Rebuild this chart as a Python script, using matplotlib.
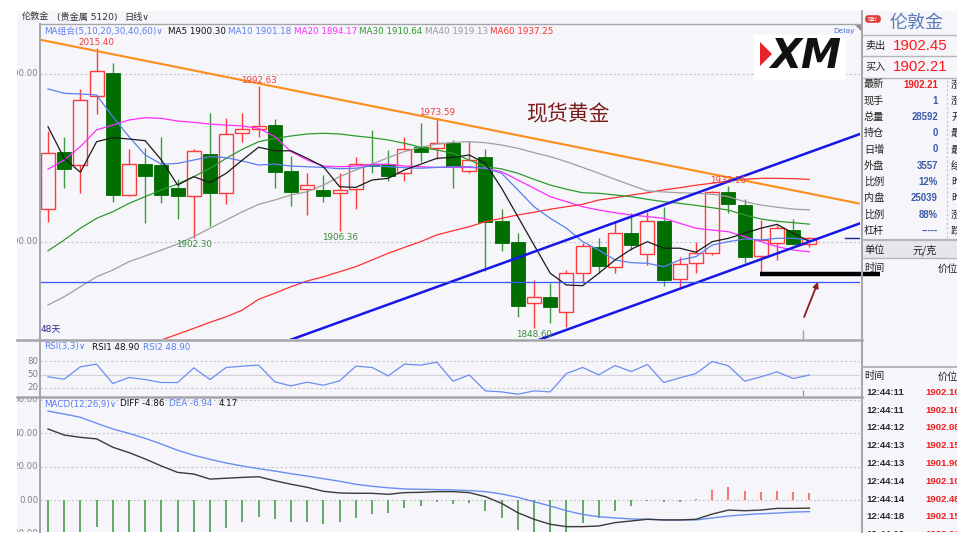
import numpy as np
import matplotlib
matplotlib.use("Agg")
import matplotlib.pyplot as plt
from matplotlib.patches import Rectangle, Polygon, FancyBboxPatch

plt.rcParams['font.family'] = ['DejaVu Sans', 'Noto Sans CJK SC']

# ---------------- data (daily candles, London gold) ----------------
opens = [1919.6, 1953.4, 1945.6, 1986.9, 2000.8, 1927.8, 1946.2, 1945.8, 1932.3, 1927.6,
         1952.4, 1929.3, 1965.1, 1967.1, 1969.6, 1942.3, 1931.4, 1931.0, 1929.0, 1931.5,
         1946.4, 1946.4, 1941.3, 1956.4, 1955.8, 1958.8, 1942.3, 1950.4, 1912.3, 1900.0,
         1863.5, 1867.4, 1858.2, 1881.4, 1897.2, 1884.9, 1905.5, 1892.9, 1912.3, 1878.0,
         1887.3, 1893.3, 1929.6, 1922.0, 1891.7, 1899.2, 1907.1, 1898.8]
highs = [1966.0, 1962.3, 1990.9, 2015.40, 2006.4, 1955.2, 1955.8, 1962.3, 1937.5, 1955.2,
         1976.6, 1973.6, 1976.6, 1992.63, 1973.2, 1951.2, 1940.9, 1939.9, 1940.9, 1950.8,
         1966.7, 1954.8, 1962.3, 1970.7, 1973.59, 1960.7, 1960.1, 1955.4, 1919.5, 1905.5,
         1877.4, 1875.4, 1883.3, 1899.2, 1902.2, 1911.7, 1917.1, 1918.0, 1921.0, 1891.3,
         1900.2, 1930.4, 1933.16, 1925.4, 1913.1, 1910.1, 1913.5, 1903.2]
lows = [1912.1, 1932.0, 1929.3, 1976.0, 1924.0, 1927.4, 1911.1, 1923.0, 1913.9, 1902.30,
        1909.7, 1922.6, 1959.5, 1962.3, 1932.3, 1921.4, 1916.1, 1924.0, 1906.36, 1919.6,
        1940.9, 1936.5, 1936.5, 1947.8, 1949.2, 1932.3, 1940.9, 1882.9, 1894.6, 1855.5,
        1848.60, 1851.6, 1849.5, 1875.8, 1881.4, 1881.4, 1895.2, 1886.3, 1874.0, 1872.4,
        1881.4, 1892.3, 1917.4, 1887.3, 1882.0, 1889.3, 1898.2, 1896.8]
closes = [1952.8, 1943.5, 1984.5, 2001.8, 1928.0, 1946.6, 1939.5, 1928.0, 1927.6, 1954.3,
          1929.0, 1964.3, 1967.4, 1969.0, 1941.5, 1929.9, 1933.8, 1927.6, 1931.0, 1946.4,
          1945.2, 1939.5, 1955.2, 1953.8, 1958.8, 1944.5, 1948.8, 1912.1, 1899.6, 1862.1,
          1867.4, 1861.1, 1881.4, 1897.6, 1885.9, 1905.5, 1898.2, 1912.5, 1877.4, 1886.9,
          1893.3, 1929.9, 1922.4, 1891.3, 1901.2, 1908.2, 1898.8, 1902.2]

ma5 = [1968.6, 1949.8, 1941.5, 1959.7, 1962.1, 1961.3, 1960.3, 1948.8, 1933.9, 1938.9,
       1935.3, 1940.9, 1948.8, 1956.4, 1954.3, 1954.3, 1949.8, 1944.8, 1932.9, 1932.5,
       1936.9, 1937.9, 1942.9, 1946.3, 1949.8, 1950.4, 1951.8, 1946.8, 1932.0, 1915.1,
       1898.2, 1881.4, 1874.4, 1874.0, 1881.4, 1889.3, 1895.7, 1900.2, 1896.3, 1896.3,
       1893.9, 1900.2, 1902.2, 1905.2, 1908.2, 1910.5, 1905.2, 1900.30]
ma10 = [1991.1, 1988.5, 1988.1, 1987.5, 1974.6, 1962.7, 1951.8, 1946.3, 1946.8, 1948.8,
        1950.8, 1950.2, 1948.2, 1945.8, 1946.4, 1945.2, 1944.8, 1944.4, 1943.6, 1943.9,
        1945.4, 1944.8, 1944.2, 1943.9, 1944.4, 1944.8, 1944.8, 1943.9, 1940.9, 1931.0,
        1921.0, 1914.1, 1908.2, 1900.2, 1895.2, 1889.3, 1887.7, 1887.3, 1885.3, 1889.3,
        1891.3, 1898.2, 1900.2, 1901.8, 1901.2, 1902.2, 1902.2, 1901.18]
ma20 = [1943.3, 1948.8, 1956.8, 1966.7, 1969.6, 1972.6, 1974.0, 1973.6, 1972.0, 1971.2,
        1970.2, 1969.6, 1969.0, 1967.7, 1962.7, 1953.8, 1948.8, 1945.2, 1944.8, 1945.2,
        1946.3, 1946.3, 1945.2, 1944.8, 1944.4, 1944.4, 1944.4, 1943.9, 1941.8, 1936.9,
        1932.0, 1927.0, 1924.0, 1921.0, 1919.0, 1917.4, 1916.1, 1915.1, 1914.1, 1911.1,
        1908.2, 1907.1, 1906.1, 1903.2, 1900.2, 1897.2, 1895.2, 1894.17]
ma30 = [1894.8, 1901.2, 1908.2, 1914.1, 1918.0, 1923.0, 1927.0, 1931.0, 1934.5, 1938.9,
        1943.9, 1949.8, 1955.2, 1959.7, 1961.7, 1963.1, 1964.3, 1964.7, 1964.3, 1963.1,
        1962.1, 1960.7, 1958.8, 1956.4, 1954.8, 1952.8, 1948.8, 1944.8, 1943.5, 1940.9,
        1937.3, 1933.9, 1931.4, 1929.3, 1929.0, 1928.0, 1927.0, 1925.4, 1924.0, 1923.0,
        1921.8, 1920.4, 1919.0, 1916.1, 1913.7, 1912.3, 1911.5, 1910.64]
ma40 = [1862.5, 1867.4, 1873.4, 1879.3, 1883.3, 1888.3, 1891.7, 1895.2, 1898.8, 1903.2,
        1908.2, 1913.1, 1918.0, 1922.4, 1925.0, 1928.0, 1929.9, 1933.9, 1938.9, 1942.9,
        1946.4, 1950.2, 1953.8, 1956.4, 1958.3, 1959.3, 1959.7, 1959.1, 1957.7, 1955.8,
        1953.2, 1950.8, 1947.8, 1944.4, 1940.9, 1937.3, 1933.8, 1930.4, 1929.8, 1929.3,
        1929.0, 1928.4, 1927.0, 1924.0, 1922.0, 1920.7, 1919.6, 1919.13]
ma60 = [None, None, None, None, None, None, None, 1841.7, 1845.1, 1848.6,
        1852.2, 1855.5, 1859.5, 1865.9, 1869.5, 1873.4, 1876.8, 1879.3, 1882.3, 1885.3,
        1889.3, 1893.3, 1896.8, 1900.2, 1904.2, 1906.7, 1909.1, 1912.1, 1914.1, 1916.1,
        1917.7, 1919.5, 1921.0, 1922.4, 1925.0, 1926.4, 1928.0, 1929.3, 1931.0, 1932.3,
        1933.8, 1935.0, 1936.3, 1937.3, 1937.9, 1937.9, 1937.7, 1937.25]

rsi = [44.7, 39.4, 67.5, 73.5, 29.5, 43.2, 38.6, 31.8, 31.8, 65.2,
       38.6, 66.0, 69.0, 71.3, 33.3, 24.2, 32.5, 25.7, 35.6, 69.0,
       66.0, 47.0, 73.5, 71.3, 78.1, 34.8, 49.2, 12.8, 10.5, 5.2,
       12.8, 10.5, 52.3, 66.0, 49.2, 70.5, 56.8, 72.8, 31.8, 42.4,
       52.3, 79.6, 69.7, 34.8, 44.7, 56.1, 40.9, 48.90]

diff = [42.4, 38.8, 37.4, 36.5, 31.5, 28.3, 24.5, 20.3, 16.5, 15.5,
        12.5, 13.0, 13.5, 13.9, 11.5, 9.4, 7.6, 5.2, 4.2, 4.0,
        4.0, 3.4, 4.4, 4.6, 5.0, 5.0, 4.4, 2.0, -2.0, -7.6,
        -11.5, -14.5, -15.9, -15.9, -15.5, -13.5, -12.5, -11.5, -11.9, -11.9,
        -11.5, -8.4, -6.0, -6.4, -6.0, -5.0, -5.0, -4.86]
dea = [53.1, 51.3, 49.4, 45.8, 42.4, 39.8, 36.8, 33.4, 29.7, 26.7,
       24.3, 22.1, 20.3, 18.7, 17.3, 15.7, 14.3, 12.7, 11.2, 9.4,
       8.2, 7.3, 6.6, 6.4, 6.2, 6.0, 5.6, 5.0, 3.6, 1.6,
       -1.0, -3.6, -6.4, -8.6, -10.0, -10.7, -11.3, -11.5, -11.8, -11.9,
       -11.9, -10.7, -9.6, -8.8, -8.2, -7.8, -7.2, -6.94]
macd_hist = [-21.4, -25.0, -24.0, -15.9, -21.8, -23.0, -24.6, -26.2, -26.4, -22.4,
             -23.6, -16.9, -12.9, -10.0, -11.4, -12.9, -13.4, -14.3, -13.4, -10.6,
             -8.6, -7.6, -5.0, -3.4, -1.4, -2.4, -1.6, -6.6, -10.6, -17.9,
             -21.0, -21.8, -19.2, -13.5, -10.9, -6.4, -3.6, -0.3, -1.2, -1.0,
             0.4, 6.0, 8.0, 5.4, 5.0, 5.4, 4.6, 4.17]

# drawn annotations (bar index, price)
resist_x, resist_y = [-0.49, 50.12], [2020.4, 1922.8]         # orange
chan_up_x, chan_up_y = [14.0, 50.12], [1838.4, 1964.3]        # blue channel top
chan_lo_x, chan_lo_y = [30.37, 50.12], [1842.0, 1911.1]       # blue channel bottom
hline_price = 1876.4
support_x, support_price = [43.95, 51.36], 1881.0
arrow_from, arrow_to = (46.67, 1855.4), (47.53, 1876.2)
last_price = 1902.21
high_marks = [3, 13, 24, 42]
low_marks = [9, 18, 30]

legend_items = [("MA5 1900.30", '#111111'), ("MA10 1901.18", '#5b7ff0'),
                ("MA20 1894.17", '#ff2dff'), ("MA30 1910.64", '#2f9a2f'),
                ("MA40 1919.13", '#9a9a9a'), ("MA60 1937.25", '#ff3030')]
quote_labels = ['最新', '现手', '总量', '持仓', '日增', '外盘', '比例', '内盘', '比例', '杠杆']
quote_values = ['1902.21', '1', '28592', '0', '0', '3557', '12%', '25039', '88%', '-----']
quote_right = ['涨跌', '涨幅', '开盘', '最高', '最低', '结算', '昨收', '昨结', '涨停', '跌停']
tick_times = ['12:44:11', '12:44:11', '12:44:12', '12:44:13', '12:44:13',
              '12:44:14', '12:44:14', '12:44:18', '12:44:19']
tick_prices = ['1902.10', '1902.10', '1902.08', '1902.15', '1901.90',
               '1902.10', '1902.48', '1902.15', '1902.21']

# ---------------- figure ----------------
W, H = 975, 549
BG = '#f5f5fa'
BORDER = '#a4a4aa'
GRID = '#c6c6cc'
RED = '#ff3b3b'
DKGREEN = '#006e00'
WICKGREEN = '#3f9a3f'
LBLUE = '#5b7ff0'

fig = plt.figure(figsize=(W / 100, H / 100), dpi=100)
fig.patch.set_facecolor('white')


def px_axes(x0, y0, x1, y1, z):
    return fig.add_axes([x0 / W, 1 - y1 / H, (x1 - x0) / W, (y1 - y0) / H], zorder=z)


def clean(a):
    a.set_facecolor('none')
    for s in a.spines.values():
        s.set_visible(False)
    a.set_xticks([])
    a.set_yticks([])


# background layer
bg = px_axes(0, 0, W, H, 0)
bg.set_xlim(0, W); bg.set_ylim(H, 0); bg.axis('off')
bg.add_patch(Rectangle((17, 11), 940, 521, facecolor=BG, edgecolor='none'))
bg.add_patch(Rectangle((862, 240), 95, 18, facecolor='#e6e6ec', edgecolor='none'))

XLIM = (-0.494, 50.12)
x = np.arange(len(opens))
o = np.array(opens); h = np.array(highs); l = np.array(lows); c = np.array(closes)
up = c >= o

# ---------------- main price panel ----------------
ax = px_axes(40, 24, 860, 339, 2)
clean(ax)
ax.set_xlim(*XLIM)
ax.set_ylim(1842.26, 2029.76)
for g in (2000, 1900):
    ax.axhline(g, color=GRID, lw=0.8, ls=(0, (2, 2)), zorder=1)

ax.vlines(x[up], l[up], h[up], color=RED, lw=1.0, zorder=2)
ax.vlines(x[~up], l[~up], h[~up], color=WICKGREEN, lw=1.0, zorder=2)
ax.bar(x[up], (c - o)[up], bottom=o[up], width=0.86, facecolor=BG,
       edgecolor=RED, lw=1.0, zorder=3)
ax.bar(x[~up], (o - c)[~up], bottom=c[~up], width=0.86, facecolor=DKGREEN,
       edgecolor=DKGREEN, lw=0.6, zorder=3)

ma_specs = [(ma60, '#ff3030'), (ma40, '#a0a0a0'), (ma30, '#2f9a2f'),
            (ma20, '#ff2dff'), (ma10, LBLUE), (ma5, '#1a1a1a')]
for vals, col in ma_specs:
    v = np.array([np.nan if q is None else q for q in vals], dtype=float)
    ax.plot(x, v, color=col, lw=0.9, zorder=4)

ax.plot(resist_x, resist_y, color='#ff8c1a', lw=1.5, zorder=5)
ax.plot(chan_up_x, chan_up_y, color='#1616e8', lw=1.8, zorder=5)
ax.plot(chan_lo_x, chan_lo_y, color='#1616e8', lw=1.8, zorder=5)
ax.axhline(hline_price, color='#3b55ff', lw=0.9, zorder=5)
ax.plot([49.2, XLIM[1]], [last_price, last_price], color='#20209a', lw=1.0, zorder=5)
ax.plot(support_x, [support_price, support_price], color='black', lw=3.2,
        solid_capstyle='butt', zorder=6, clip_on=False)
ax.annotate('', xy=arrow_to, xytext=arrow_from, zorder=6, annotation_clip=False,
            arrowprops=dict(arrowstyle='-|>', color='#8b1c1c', lw=1.3, mutation_scale=8,
                            shrinkA=0, shrinkB=0))
ax.vlines(46.6, 1842.26, 1847.6, color='#a0a0a0', lw=1.0, zorder=6)

for i in high_marks:
    ax.annotate(f"{highs[i]:.2f}", xy=(i, highs[i]), xytext=(0, 4.2),
                textcoords='offset points', ha='center', va='center',
                fontsize=6.3, color='#f03c3c', zorder=7)
for i in low_marks:
    ax.annotate(f"{lows[i]:.2f}", xy=(i, lows[i]), xytext=(0, -4.6),
                textcoords='offset points', ha='center', va='center',
                fontsize=6.3, color='#3c8c3c', zorder=7)

ax.text(29.5, 1976.2, '现货黄金', fontsize=15, color='#7b1c1c', ha='left', va='center',
        family=['Noto Sans CJK SC'], zorder=7)
ax.text(0.001, 0.02, '48天', transform=ax.transAxes, fontsize=6.5, color='#2a2a8a',
        ha='left', va='bottom', family=['DejaVu Sans', 'Noto Sans CJK SC'])

# ---------------- RSI panel ----------------
rax = px_axes(40, 340, 860, 397, 2)
clean(rax)
rax.set_xlim(*XLIM)
rax.set_ylim(-1.1, 128.4)
rax.axhline(80, color=GRID, lw=0.8, ls=(0, (2, 2)))
rax.axhline(50, color='#d2d2d8', lw=0.9)
rax.axhline(20, color=GRID, lw=0.8, ls=(0, (2, 2)))
rax.plot(x, rsi, color='#6b8ef0', lw=0.9)
rax.vlines(46.6, -1.1, 14.8, color='#a0a0a0', lw=1.0)

# ---------------- MACD panel ----------------
max_ = px_axes(40, 397, 860, 532, 2)
clean(max_)
max_.set_xlim(*XLIM)
max_.set_ylim(-19.1, 61.5)
for g in (60, 40, 20, 0):
    max_.axhline(g, color=GRID, lw=0.8, ls=(0, (2, 2)))
hist = np.array(macd_hist)
max_.vlines(x[hist < 0], 0, hist[hist < 0], color='#4a9d4a', lw=1.2)
max_.vlines(x[hist >= 0], 0, hist[hist >= 0], color='#ff5a5a', lw=1.2)
max_.plot(x, dea, color='#6b8ef0', lw=1.0)
max_.plot(x, diff, color='#3a3a3a', lw=1.0)

# ---------------- left value labels (clipped) ----------------
LBL = dict(fontsize=6.2, color='#80808a', ha='right', va='center', clip_on=True)
la = px_axes(17, 24, 40, 339, 3); clean(la); la.set_xlim(17, 40); la.set_ylim(1842.26, 2029.76)
for v in (2000, 1900):
    la.text(38, v, f"{v:.2f}", **LBL)
lb = px_axes(17, 340, 40, 397, 3); clean(lb); lb.set_xlim(17, 40); lb.set_ylim(-1.1, 128.4)
for v in (80, 50, 20):
    lb.text(38, v, f"{v}", **LBL)
lc = px_axes(17, 397, 40, 532, 3); clean(lc); lc.set_xlim(17, 40); lc.set_ylim(-19.1, 61.5)
for v in (60, 40, 20, 0, -20):
    lc.text(38, v, f"{v:.2f}", **LBL)

# ---------------- overlay: frames and texts ----------------
ov = px_axes(0, 0, W, H, 10)
ov.set_xlim(0, W); ov.set_ylim(H, 0); ov.axis('off')
ov.plot([40, 861], [24, 24], color=BORDER, lw=1.0)
ov.plot([40, 40], [24, 532], color=BORDER, lw=1.4)
ov.plot([17, 862], [339.5, 339.5], color=BORDER, lw=1.8)
ov.plot([17, 862], [397, 397], color=BORDER, lw=1.8)
ov.plot([861.5, 861.5], [11, 532], color=BORDER, lw=1.4)
ov.add_patch(Polygon([(854, 24), (861, 24), (861, 31)], closed=True,
                     facecolor='#8a8a90', edgecolor='none'))

# header strip
HDR = dict(fontsize=6.6, color='#333333', va='center', ha='left')
ov.text(22, 17.5, '伦敦金', **HDR)
ov.text(57, 17.5, '(贵金属 5120)', **HDR)
ov.text(124, 17.5, '日线∨', **HDR)

# MA legend
ov.text(44, 31.5, 'MA组合(5,10,20,30,40,60)∨', fontsize=6.3, color=LBLUE, va='center')
for (txt, col), xp in zip(legend_items, [168, 228, 294, 359, 425, 490]):
    ov.text(xp, 31.5, txt, fontsize=6.3, color=col, va='center')
ov.text(833, 31, 'Delay', fontsize=5.4, color='#4a6ad0', va='center')

# XM logo
ov.add_patch(Rectangle((754, 35), 92, 45, facecolor='white', edgecolor='none'))
ov.add_patch(Polygon([(760, 42), (772, 54), (760, 66)], closed=True,
                     facecolor='#e8232a', edgecolor='none'))
ov.text(806, 57.5, 'XM', fontsize=29, fontweight='heavy', fontstyle='italic',
        color='#111111', ha='center', va='center', family=['DejaVu Sans'])

# RSI / MACD titles
ov.text(44, 347, 'RSI(3,3)∨', fontsize=6.3, color=LBLUE, va='center')
ov.text(92, 347, 'RSI1 48.90', fontsize=6.3, color='#111111', va='center')
ov.text(143, 347, 'RSI2 48.90', fontsize=6.3, color=LBLUE, va='center')
ov.text(44, 404, 'MACD(12,26,9)∨', fontsize=6.3, color=LBLUE, va='center')
ov.text(120, 404, 'DIFF -4.86', fontsize=6.3, color='#111111', va='center')
ov.text(169, 404, 'DEA -6.94', fontsize=6.3, color=LBLUE, va='center')
ov.text(219, 404, '4.17', fontsize=6.3, color='#111111', va='center')

# ---------------- right quote panel ----------------
rp = px_axes(862, 11, 957, 532, 11)
rp.set_xlim(862, 957); rp.set_ylim(532, 11); rp.axis('off')
SEP = '#b4b4ba'
for yy, lw in [(34.5, 1.0), (56, 1.0), (78, 1.0), (239.5, 1.6), (258, 1.0), (367, 1.4)]:
    rp.plot([862, 957], [yy, yy], color=SEP, lw=lw, clip_on=True)
rp.plot([947, 947], [80, 238], color='#c0c0c6', lw=0.8, ls=(0, (2, 2)))

rp.add_patch(FancyBboxPatch((866, 16), 14, 6, boxstyle='round,pad=0.8,rounding_size=3',
                            facecolor='#e03a3a', edgecolor='none'))
rp.text(873, 19, '延时', fontsize=3.6, color='white', ha='center', va='center',
        family=['Noto Sans CJK SC'])
rp.text(890, 22.5, '伦敦金', fontsize=13, color='#5b7db5', ha='left', va='center',
        family=['Noto Sans CJK SC'])
rp.text(865, 45.5, '卖出', fontsize=7.3, color='#222222', va='center', family=['Noto Sans CJK SC'])
rp.text(893, 45.5, '1902.45', fontsize=10.8, color='#ff1a1a', va='center',
        family=['Liberation Sans'])
rp.text(865, 67, '买入', fontsize=7.3, color='#222222', va='center', family=['Noto Sans CJK SC'])
rp.text(893, 67, '1902.21', fontsize=10.8, color='#ff1a1a', va='center',
        family=['Liberation Sans'])

for k, (lab, val, rc) in enumerate(zip(quote_labels, quote_values, quote_right)):
    yy = 84.5 + 16.25 * k
    rp.text(864, yy, lab, fontsize=7.3, color='#222222', va='center',
            family=['Noto Sans CJK SC'], clip_on=True)
    rp.text(938, yy, val, fontsize=6.9, color=('#f01c1c' if k == 0 else '#3a5ba8'),
            fontweight='bold', ha='right', va='center', family=['Liberation Sans'],
            clip_on=True)
    rp.text(951, yy, rc, fontsize=7.3, color='#222222', va='center',
            family=['Noto Sans CJK SC'], clip_on=True)

rp.text(864, 250, '单位', fontsize=7.3, color='#222222', va='center', family=['Noto Sans CJK SC'])
rp.text(912, 250, '元/克', fontsize=7.3, color='#222222', va='center', family=['Noto Sans CJK SC'])
rp.text(864, 268.5, '时间', fontsize=7.3, color='#222222', va='center', family=['Noto Sans CJK SC'])
rp.text(938, 268.5, '价位', fontsize=7.3, color='#222222', va='center',
        family=['Noto Sans CJK SC'], clip_on=True)
rp.text(864, 376.5, '时间', fontsize=7.3, color='#222222', va='center', family=['Noto Sans CJK SC'])
rp.text(938, 376.5, '价位', fontsize=7.3, color='#222222', va='center',
        family=['Noto Sans CJK SC'], clip_on=True)
for k, (tt, pp) in enumerate(zip(tick_times, tick_prices)):
    yy = 392.5 + 17.75 * k
    rp.text(866, yy, tt, fontsize=6.8, color='#2a2a33', fontweight='bold', va='center',
            family=['Liberation Sans'], clip_on=True)
    rp.text(925, yy, pp, fontsize=6.8, color='#f01c1c', fontweight='bold', va='center',
            family=['Liberation Sans'], clip_on=True)

fig.savefig('out.png', dpi=100, facecolor='white')
